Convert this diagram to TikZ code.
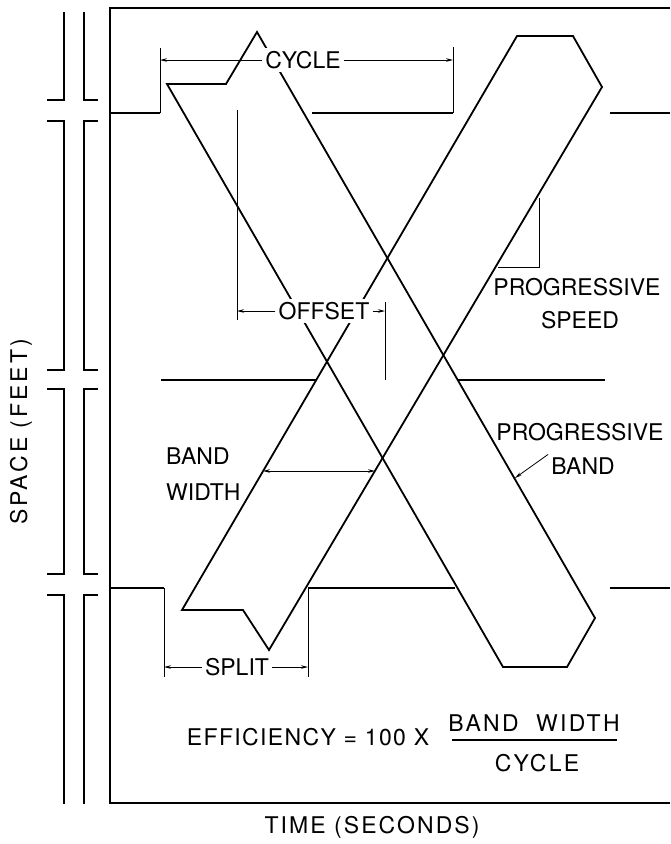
\documentclass[tikz,border=0pt]{standalone}
\usepackage{fontspec}
\setmainfont{TeX Gyre Heros}
\usetikzlibrary{positioning,arrows.meta}

\tikzset{
  band/.style={line width=1.8pt, line join=miter},
  signal/.style={line width=2pt},
  dim/.style={line width=0.8pt},
  axisline/.style={line width=1.3pt, line cap=rect},
  lbl/.style={font=\fontsize{23}{28}\selectfont, inner sep=3pt},
  lblw/.style={lbl, fill=white},
}

\begin{document}
\begin{tikzpicture}[x=1pt, y=-1pt, >={Stealth[length=7pt,width=3.5pt]}]
  \useasboundingbox (0,0) rectangle (670,844);

  % Frame
  \draw[line width=2.6pt] (670,8) -- (110,8) -- (110,803) -- (670,803);

  % Broken space axis
  \foreach \ya/\yb in {13/100, 121/370, 389/574, 595/803} {
    \draw[axisline] (64,\ya) -- (64,\yb);
    \draw[axisline] (84,\ya) -- (84,\yb);
  }
  \foreach \y in {100,121,370,389,574,595} {
    \draw[axisline] (48,\y) -- (64,\y);
    \draw[axisline] (84,\y) -- (97,\y);
  }

  % Signals (red time)
  \foreach \xa/\xb/\y in {110/160/113, 312/453/113, 610/670/113,
                          161/316/380, 458/605/380,
                          110/164/588, 308/455/588, 610/670/588} {
    \draw[signal] (\xa,\y) -- (\xb,\y);
  }

  % Bands
  \draw[band] (167,84) -- (226,84) -- (257,32) -- (595,618) -- (567,667) -- (503,667) -- cycle;
  \draw[band] (182,610) -- (243,610) -- (269,650) -- (602,87) -- (573,36) -- (517,36) -- cycle;

  % Extension lines
  \draw[dim] (160,113) -- (160,48);
  \draw[dim] (453,113) -- (453,47);
  \draw[dim] (237,110) -- (237,320);
  \draw[dim] (385,302) -- (385,380);
  \draw[dim] (164,588) -- (164,677);
  \draw[dim] (308,588) -- (308,677);
  \draw[dim] (539,198) -- (539,267) -- (498,267);

  % Cycle
  \node[lblw] (cycle) at (303,60) {CYCLE};
  \coordinate (cycL) at (160,60);
  \coordinate (cycR) at (453,60);
  \draw[dim,->] (cycle.west) -- (cycL);
  \draw[dim,->] (cycle.east) -- (cycR);

  % Offset
  \node[lblw] (offset) at (324,311) {OFFSET};
  \coordinate (offL) at (237,311);
  \coordinate (offR) at (385,311);
  \draw[dim,->] (offset.west) -- (offL);
  \draw[dim,->] (offset.east) -- (offR);

  % Split
  \node[lbl] (split) at (237,667) {SPLIT};
  \coordinate (splL) at (164,667);
  \coordinate (splR) at (308,667);
  \draw[dim,->] (split.west) -- (splL);
  \draw[dim,->] (split.east) -- (splR);

  % Band width
  \node[lbl, anchor=west] (bwtop) at (163,456) {BAND};
  \node[lbl, anchor=west] (bwbot) at (163,492) {WIDTH};
  \coordinate (bwL) at (263,471);
  \coordinate (bwR) at (375,471);
  \draw[dim,<->] (bwL) -- (bwR);

  % Progressive speed / band
  \node[lbl] (pspeed) at (577,287) {PROGRESSIVE};
  \node[lbl] (pspeed2) at (580,320) {SPEED};
  \node[lbl] (pband) at (580,432) {PROGRESSIVE};
  \node[lbl] (pband2) at (583,466) {BAND};
  \coordinate (pbTip) at (515,478);
  \draw[dim,->] (pband2.north west) -- (pbTip);

  % Efficiency
  \node[lbl, font=\fontsize{23}{28}\addfontfeature{LetterSpace=6}\selectfont] (eff) at (308,737) {EFFICIENCY = 100 X};
  \node[lbl, font=\fontsize{23}{28}\addfontfeature{LetterSpace=10}\selectfont] (num) at (534,723) {BAND \ WIDTH};
  \node[lbl, font=\fontsize{23}{28}\addfontfeature{LetterSpace=10}\selectfont] (den) at (537,763) {CYCLE};
  \draw[line width=1.3pt] (452,740) -- (617,740);

  % Axis titles
  \node[lbl, font=\fontsize{23}{28}\addfontfeature{LetterSpace=9}\selectfont] (ttime) at (372,827) {TIME (SECONDS)};
  \node[lbl, rotate=90, font=\fontsize{23}{28}\addfontfeature{LetterSpace=13}\selectfont] (tspace) at (21,432) {SPACE (FEET)};
\end{tikzpicture}
\end{document}
